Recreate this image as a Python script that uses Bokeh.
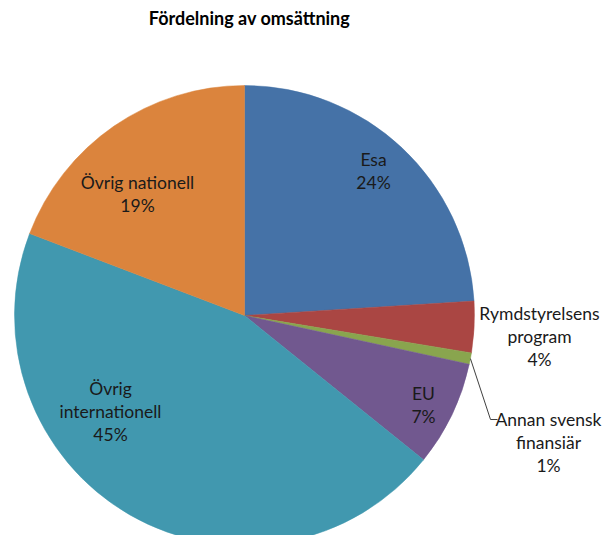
import math
from bokeh.plotting import figure
from bokeh.models import Range1d, ColumnDataSource
from bokeh.core.properties import value
from bokeh.embed import file_html
from bokeh.resources import INLINE

# ---- data ----
title = "Fördelning av omsättning"
categories = ["Esa", "Rymdstyrelsens program", "Annan svensk finansiär", "EU",
              "Övrig internationell", "Övrig nationell"]
shares = [24.0, 3.6, 0.8, 7.4, 45.0, 19.2]
label_lines = [["Esa"], ["Rymdstyrelsens", "program"], ["Annan svensk", "finansiär"],
               ["EU"], ["Övrig", "internationell"], ["Övrig nationell"]]
colors = ["#4572A7", "#AA4643", "#89A54E", "#71588F", "#4198AF", "#DB843D"]

# ---- layout (screen pixel positions of label centres) ----
label_pos = [(373, 159), (539, 313), (548, 419), (423, 393), (110, 388), (137, 182)]
line_h = 23
cx, cy, r = 244, 315, 230

W, H = 605, 535
p = figure(width=W, height=H, output_backend="svg", toolbar_location=None,
           x_range=Range1d(0, W), y_range=Range1d(-H, 0),
           min_border=0)
p.axis.visible = False
p.grid.visible = False
p.outline_line_color = None
p.background_fill_color = "white"
p.border_fill_color = "white"

total = sum(shares)
starts, ends = [], []
a = math.pi / 2
for s in shares:
    b = a - 2 * math.pi * s / total
    starts.append(b)
    ends.append(a)
    a = b

src = ColumnDataSource(dict(start=starts, end=ends, color=colors, cat=categories))
p.wedge(x=cx, y=-cy, radius=r, start_angle="start", end_angle="end",
        fill_color="color", line_color="color", line_width=0.5, source=src)

# leader line for the tiny slice
mid = (starts[2] + ends[2]) / 2
ex, ey = cx + r * math.cos(mid), -cy + r * math.sin(mid)
p.line(x=[ex, 490, 497], y=[ey, -419, -419], line_color="#404040", line_width=1)

# labels
xs, ys, ts = [], [], []
for lines, (lx, ly), s in zip(label_lines, label_pos, shares):
    allines = lines + ["%d%%" % round(s)]
    for i, t in enumerate(allines):
        xs.append(lx)
        ys.append(-(ly + i * line_h))
        ts.append(t)
p.text(x=xs, y=ys, text=ts, text_align="center", text_baseline="middle",
       text_font=value("Lato"), text_font_size="17.5px", text_color="#1a1a1a")

p.text(x=[249], y=[-17], text=[title], text_align="center", text_baseline="middle",
       text_font=value("Lato"), text_font_size="18px", text_font_style="bold",
       text_color="#000000")

open("out.html", "w").write(file_html(p, INLINE))
